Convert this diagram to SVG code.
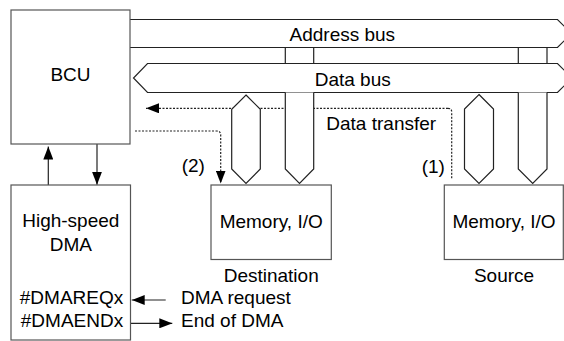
<svg xmlns="http://www.w3.org/2000/svg" width="564" height="341" viewBox="0 0 564 341">
<style>
text{font-family:"Liberation Sans",Arial,sans-serif;font-size:19px;fill:#000}
.box{fill:#fff;stroke:#555;stroke-width:1.2}
.bus{fill:#fff;stroke:#222;stroke-width:1.2}
.ln{fill:none;stroke:#222;stroke-width:1.2}
.dot{fill:none;stroke:#222;stroke-width:1.2;stroke-dasharray:2,1.5}
.c{text-anchor:middle}
</style>
<defs>
<marker id="ah" viewBox="0 0 13 10" refX="13" refY="5" markerWidth="13" markerHeight="10" markerUnits="userSpaceOnUse" orient="auto">
<path d="M0,0 L13,5 L0,10 Z" fill="#000"/>
</marker>
</defs>
<rect width="564" height="341" fill="#fff"/>
<g id="connectors">
<path class="dot" d="M448,108.3 H146" marker-end="url(#ah)"/>
<path class="dot" d="M448,108.3 Q451.7,108.3 451.7,112 V178.5"/>
<path class="dot" d="M135,131 H216.5 Q220.7,131 220.7,135 V183.5" marker-end="url(#ah)"/>
<path class="ln" d="M48.3,185 V146.5" marker-end="url(#ah)"/>
<path class="ln" d="M97,144 V184.7" marker-end="url(#ah)"/>
<path class="ln" d="M165.7,300 H131.7" marker-end="url(#ah)"/>
<path class="ln" d="M131,323.3 H172.3" marker-end="url(#ah)"/>
</g>
<g id="address-bus">
<path class="bus" d="M130,19.5 H557.5 L571.5,33.5 L557.5,47.5 H130"/>
<path class="ln" d="M285.3,47.5 V63.5 M313.7,47.5 V63.5 M518.3,47.5 V63.5 M547,47.5 V63.5"/>
<text x="289.5" y="41">Address bus</text>
</g>
<g id="data-bus">
<path class="bus" d="M147.5,63.5 H557.5 L572,78 L557.5,92.5 H147.5 L133.5,78 Z"/>
<text x="314.7" y="86">Data bus</text>
</g>
<g id="dest-addr-stub"><path class="bus" d="M285.3,92.5 V169 L299.5,183.5 L313.7,169 V92.5"/></g>
<g id="src-addr-stub"><path class="bus" d="M518.3,92.5 V169 L532.7,183.5 L547,169 V92.5"/></g>
<g id="dest-data-stub"><path class="bus" d="M246,95 L260.3,109.3 V169 L246,183.5 L231.7,169 V109.3 Z"/></g>
<g id="src-data-stub"><path class="bus" d="M479,94.5 L493.5,109 V169 L479,183.5 L464.5,169 V109 Z"/></g>
<g id="bcu">
<rect class="box" x="11" y="10" width="119" height="134"/>
<text class="c" x="70.5" y="81">BCU</text>
</g>
<g id="dma">
<rect class="box" x="11" y="185" width="119.5" height="155"/>
<text class="c" x="70.8" y="227.3">High-speed</text>
<text class="c" x="70.8" y="250.7">DMA</text>
<text class="c" x="71.5" y="304.3">#DMAREQx</text>
<text class="c" x="72" y="327.3">#DMAENDx</text>
</g>
<g id="destination">
<rect class="box" x="211" y="185" width="120.3" height="74.5"/>
<text class="c" x="271.2" y="227.7">Memory, I/O</text>
<text class="c" x="271.2" y="281.7">Destination</text>
</g>
<g id="source">
<rect class="box" x="444.3" y="185" width="119" height="74.5"/>
<text class="c" x="504" y="227.7">Memory, I/O</text>
<text class="c" x="504" y="281.7">Source</text>
</g>
<g id="labels">
<text x="326.3" y="130">Data transfer</text>
<text x="181.7" y="171.7">(2)</text>
<text x="421.7" y="173.3">(1)</text>
<text x="181" y="304.3">DMA request</text>
<text x="181" y="327.3">End of DMA</text>
</g>
</svg>
